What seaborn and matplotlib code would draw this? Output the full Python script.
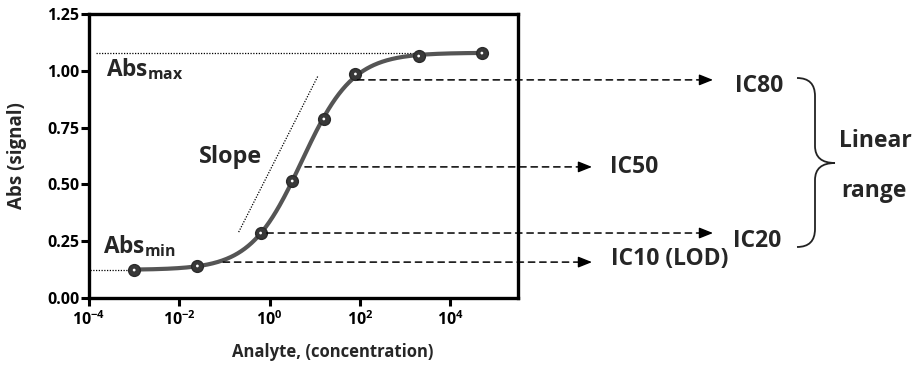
import numpy as np
import pandas as pd
import matplotlib
matplotlib.use("Agg")
import matplotlib.pyplot as plt
import matplotlib.transforms as mtransforms
from matplotlib.path import Path
from matplotlib.patches import PathPatch
from matplotlib.ticker import NullLocator
import seaborn as sns

# Standard series: log10 of analyte concentration and measured absorbance
log_conc = [-3.0, -1.6, -0.2, 0.5, 1.2, 1.9, 3.3, 4.7]
absorbance = [0.123, 0.141, 0.286, 0.515, 0.788, 0.986, 1.065, 1.078]

# Axis ticks
y_ticks = [0.0, 0.25, 0.50, 0.75, 1.00, 1.25]
x_tick_exponents = [-4, -2, 0, 2, 4]

# Inhibition levels marked on the curve (absorbance values)
ic_labels = ["IC80", "IC50", "IC20", "IC10 (LOD)"]
ic_levels = [0.96, 0.577, 0.286, 0.158]

# ---------------------------------------------------------------- style
FONT = "Open Sans"
sns.set_style("ticks")
plt.rcParams["font.family"] = [FONT, "DejaVu Sans"]
plt.rcParams["font.weight"] = "bold"
plt.rcParams["mathtext.fontset"] = "custom"
plt.rcParams["mathtext.rm"] = f"{FONT}:bold"
plt.rcParams["mathtext.bf"] = f"{FONT}:bold"
plt.rcParams["mathtext.it"] = f"{FONT}:bold"
plt.rcParams["mathtext.default"] = "bf"

W, H = 915, 369
fig = plt.figure(figsize=(W / 100, H / 100), dpi=100)
fig.patch.set_facecolor("white")
ax = fig.add_axes([89 / W, 1 - 298 / H, (518 - 89) / W, (298 - 14) / H])

# pixel helper (origin top-left, y downwards)
px = mtransforms.Affine2D().scale(1 / W, -1 / H).translate(0, 1) + fig.transFigure

# ------------------------------------------------ four-parameter logistic fit
x = np.array(log_conc)
y = np.array(absorbance)
cs = np.arange(0.0, 1.6, 0.005)
hs = np.arange(0.4, 1.6, 0.005)
C, Hh = np.meshgrid(cs, hs, indexing="ij")
g = 1.0 / (1.0 + 10.0 ** ((C[..., None] - x) * Hh[..., None]))
a1 = 1.0 - g
s11 = (a1 * a1).sum(-1); s12 = (a1 * g).sum(-1); s22 = (g * g).sum(-1)
r1 = (a1 * y).sum(-1); r2 = (g * y).sum(-1)
det = s11 * s22 - s12 ** 2
B = (s22 * r1 - s12 * r2) / det
T = (s11 * r2 - s12 * r1) / det
sse = ((B[..., None] * a1 + T[..., None] * g - y) ** 2).sum(-1)
i, j = np.unravel_index(np.argmin(sse), sse.shape)
c_fit, h_fit, bottom, top = cs[i], hs[j], B[i, j], T[i, j]


def logistic(lx):
    return bottom + (top - bottom) / (1.0 + 10.0 ** ((c_fit - lx) * h_fit))


def inverse(level):
    f = (level - bottom) / (top - bottom)
    return c_fit - np.log10(1.0 / f - 1.0) / h_fit


lx = np.linspace(log_conc[0], log_conc[-1], 400)
curve = pd.DataFrame({"conc": 10.0 ** lx, "abs": logistic(lx)})
points = pd.DataFrame({"conc": 10.0 ** x, "abs": y})

# ------------------------------------------------------------- marks
sns.lineplot(data=curve, x="conc", y="abs", color="#555555", lw=3.0,
             ax=ax, zorder=3)
sns.scatterplot(data=points, x="conc", y="abs", s=72, color="#383838",
                edgecolor="#2b2b2b", linewidth=1.0, ax=ax, zorder=4)
sns.scatterplot(data=points, x="conc", y="abs", s=4, color="white",
                edgecolor="none", ax=ax, zorder=5)

ax.set_xscale("log")
ax.set_xlim(1e-4, 10 ** 5.5)
ax.set_ylim(0, 1.25)
ax.set_xticks([10.0 ** e for e in x_tick_exponents])
ax.set_xticklabels([r"$10^{%d}$" % e for e in x_tick_exponents])
ax.xaxis.set_minor_locator(NullLocator())
ax.set_yticks(y_ticks)
ax.set_yticklabels([f"{v:.2f}" for v in y_ticks])
ax.set_xlabel("")
ax.set_ylabel("")
for sp in ax.spines.values():
    sp.set_visible(True)
    sp.set_linewidth(2.4)
    sp.set_color("black")
ax.tick_params(axis="both", direction="out", length=5.5, width=2.2,
               labelsize=11.5, pad=1.5, colors="black")
ax.tick_params(axis="x", pad=3)
for t in ax.get_xticklabels() + ax.get_yticklabels():
    t.set_fontweight("bold")

# ------------------------------------------------ plateau and slope guides
ax.plot([10 ** -3.85, 10.0 ** log_conc[6]], [top, top], ls=(0, (1, 1.2)),
        color="black", lw=0.9, zorder=2)
ax.plot([10 ** -3.97, 10.0 ** log_conc[0]], [bottom, bottom], ls=(0, (1, 1.2)),
        color="black", lw=0.9, zorder=2)

slope = (top - bottom) * h_fit * np.log(10) / 4.0
mid = (top + bottom) / 2.0
sy = np.array([0.29, 0.98])
sx = c_fit - 0.6 + (sy - mid) / (0.93 * slope)
ax.plot(10.0 ** sx, sy, ls=(0, (1, 1.2)), color="black", lw=0.9, zorder=2)

ax.text(10 ** -3.62, 0.975, r"Abs$_{max}$", fontsize=16.3, fontweight="bold",
        ha="left", va="baseline")
ax.text(10 ** -3.69, 0.198, r"Abs$_{min}$", fontsize=16.3, fontweight="bold",
        ha="left", va="baseline")
ax.text(10 ** -1.56, 0.594, "Slope", fontsize=16.8, fontweight="bold",
        ha="left", va="baseline")

# ------------------------------------------------ IC guide arrows
arrow_tip = {"IC80": 713, "IC50": 592, "IC20": 713, "IC10 (LOD)": 592}
label_pos = {"IC80": (735, 92), "IC50": (610, 173), "IC20": (733, 247),
             "IC10 (LOD)": (611, 265)}
for lbl, lvl in zip(ic_labels, ic_levels):
    x0 = inverse(lvl) + 0.13
    tip = arrow_tip[lbl] / W
    ax.annotate("", xy=(tip - 4 / W, lvl), xycoords=("figure fraction", "data"),
                xytext=(10.0 ** x0, lvl), textcoords="data",
                arrowprops=dict(arrowstyle="-", ls=(0, (4.2, 3.2)), lw=1.1,
                                color="black", shrinkA=0, shrinkB=0),
                annotation_clip=False, zorder=6)
    ax.annotate("", xy=(tip, lvl), xycoords=("figure fraction", "data"),
                xytext=(tip - 6 / W, lvl),
                textcoords=("figure fraction", "data"),
                arrowprops=dict(arrowstyle="-|>,head_length=0.6,head_width=0.24",
                                mutation_scale=14, lw=1.0, color="black",
                                shrinkA=0, shrinkB=0),
                annotation_clip=False, zorder=6)
    lx0, ly0 = label_pos[lbl]
    fig.text(lx0, ly0, lbl, transform=px, fontsize=16.5, fontweight="bold",
             ha="left", va="baseline")

# brace grouping the linear range
brace = Path(
    [(797, 78), (815, 78), (815, 96), (815, 146), (815, 163), (835, 163),
     (815, 163), (815, 180), (815, 229), (815, 247), (797, 247)],
    [Path.MOVETO, Path.CURVE3, Path.CURVE3, Path.LINETO, Path.CURVE3,
     Path.CURVE3, Path.CURVE3, Path.CURVE3, Path.LINETO, Path.CURVE3,
     Path.CURVE3])
fig.patches.append(PathPatch(brace, transform=px, fill=False, lw=1.3,
                             edgecolor="#222222"))
fig.text(875, 147, "Linear", transform=px, fontsize=16.5, fontweight="bold",
         ha="center", va="baseline")
fig.text(874, 197, "range", transform=px, fontsize=16.5, fontweight="bold",
         ha="center", va="baseline")

# axis titles
fig.text(17, 156, "Abs (signal)", transform=px, fontsize=13.5, rotation=90,
         fontweight="bold", ha="center", va="center")
fig.text(333, 357, "Analyte, (concentration)", transform=px, fontsize=12,
         fontweight="bold", ha="center", va="baseline")

fig.savefig("out.png", dpi=100, facecolor="white")
